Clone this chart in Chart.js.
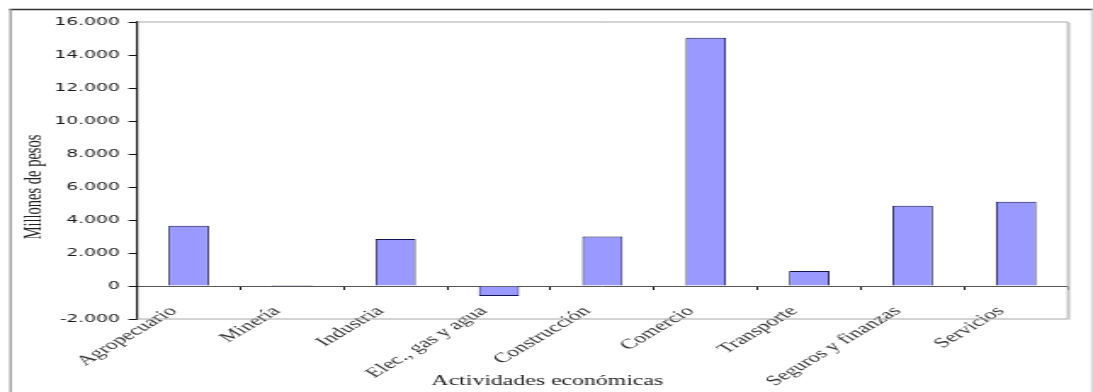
<!DOCTYPE html>
<html>
<head>
<meta charset="utf-8">
<script src="https://cdn.jsdelivr.net/npm/chart.js@4/dist/chart.umd.min.js"></script>
<style>
  html, body { margin: 0; padding: 0; background: #fff; overflow: hidden; }
  #wrap { width: 643px; height: 392px; transform: scaleX(1.6998); transform-origin: 0 0; }
</style>
</head>
<body>
<div id="wrap"><canvas id="chart" width="643" height="392"></canvas></div>
<script>
// Actividades económicas y su valor en millones de pesos
const categories = ['Agropecuario', 'Minería', 'Industria', 'Elec., gas y agua', 'Construcción',
                    'Comercio', 'Transporte', 'Seguros y finanzas', 'Servicios'];
const values = [3650, 60, 2850, -600, 3000, 15050, 910, 4870, 5110];
const yTickLabels = ['-2.000', '0', '2.000', '4.000', '6.000', '8.000', '10.000', '12.000', '14.000', '16.000'];
const yTitle = 'Millones de pesos';
const xTitle = 'Actividades económicas';

// Frame, plot box and axis titles
const decorations = {
  id: 'decorations',
  beforeDraw(chart) {
    const ctx = chart.ctx;
    ctx.save();
    ctx.fillStyle = '#fff';
    ctx.fillRect(0, 0, chart.width, chart.height);
    ctx.strokeStyle = '#333';
    ctx.lineWidth = 1.4;
    ctx.beginPath(); ctx.moveTo(5.5, 9.5); ctx.lineTo(643, 9.5); ctx.stroke();
    ctx.strokeStyle = '#8a8a8a';
    ctx.lineWidth = 1.2;
    ctx.beginPath(); ctx.moveTo(6.2, 9); ctx.lineTo(6.2, 392); ctx.stroke();
    ctx.strokeStyle = '#c4c4c4';
    ctx.lineWidth = 0.8;
    ctx.beginPath(); ctx.moveTo(642.3, 9); ctx.lineTo(642.3, 392); ctx.stroke();
    ctx.restore();
  },
  beforeDatasetsDraw(chart) {
    const {ctx, chartArea: a} = chart;
    ctx.save();
    ctx.strokeStyle = '#a8a8a8';
    ctx.lineWidth = 1;
    ctx.beginPath();
    ctx.moveTo(a.left, a.top); ctx.lineTo(a.right, a.top);
    ctx.lineTo(a.right, a.bottom); ctx.lineTo(a.left, a.bottom);
    ctx.stroke();
    ctx.strokeStyle = '#cfcfcf';
    ctx.beginPath(); ctx.moveTo(a.right + 1, a.top + 1); ctx.lineTo(a.right + 1, a.bottom + 1); ctx.stroke();
    ctx.restore();
  },
  afterDraw(chart) {
    const ctx = chart.ctx;
    ctx.save();
    ctx.fillStyle = '#222';
    ctx.font = '14px "Liberation Serif"';
    ctx.textAlign = 'center';
    ctx.textBaseline = 'middle';
    ctx.fillText(xTitle, 322, 381);
    ctx.translate(20, 187);
    ctx.rotate(-Math.PI / 2);
    ctx.font = '14.5px "Liberation Serif"';
    ctx.fillText(yTitle, 0, 0);
    ctx.restore();
  }
};

new Chart(document.getElementById('chart'), {
  type: 'bar',
  data: {
    labels: categories,
    datasets: [{
      data: values,
      backgroundColor: '#9999ff',
      borderColor: '#141450',
      borderWidth: 1,
      categoryPercentage: 1,
      barPercentage: 0.39
    }]
  },
  plugins: [decorations],
  options: {
    responsive: false,
    animation: false,
    layout: { padding: { left: 0, right: 14.8, top: 22, bottom: 73 } },
    plugins: { legend: { display: false }, tooltip: { enabled: false } },
    scales: {
      x: {
        position: { y: 0 },
        offset: true,
        grid: { drawOnChartArea: false, drawTicks: true, tickLength: 3, color: '#111', offset: true },
        border: { display: true, color: '#555', width: 1 },
        ticks: {
          autoSkip: false, minRotation: 45, maxRotation: 45, padding: 14, labelOffset: -9,
          color: '#333', font: { family: '"Liberation Serif"', size: 14 }
        }
      },
      y: {
        min: -2000, max: 16000,
        afterFit(scale) { scale.width = 80.6; },
        grid: { drawOnChartArea: false, drawTicks: true, tickLength: 5, color: '#111' },
        border: { display: true, color: '#111', width: 1.2 },
        ticks: {
          stepSize: 2000, padding: 5, color: '#1a1a1a',
          font: { family: '"DejaVu Sans"', size: 11 },
          callback: (v, i) => yTickLabels[i]
        }
      }
    }
  }
});
</script>
</body>
</html>
